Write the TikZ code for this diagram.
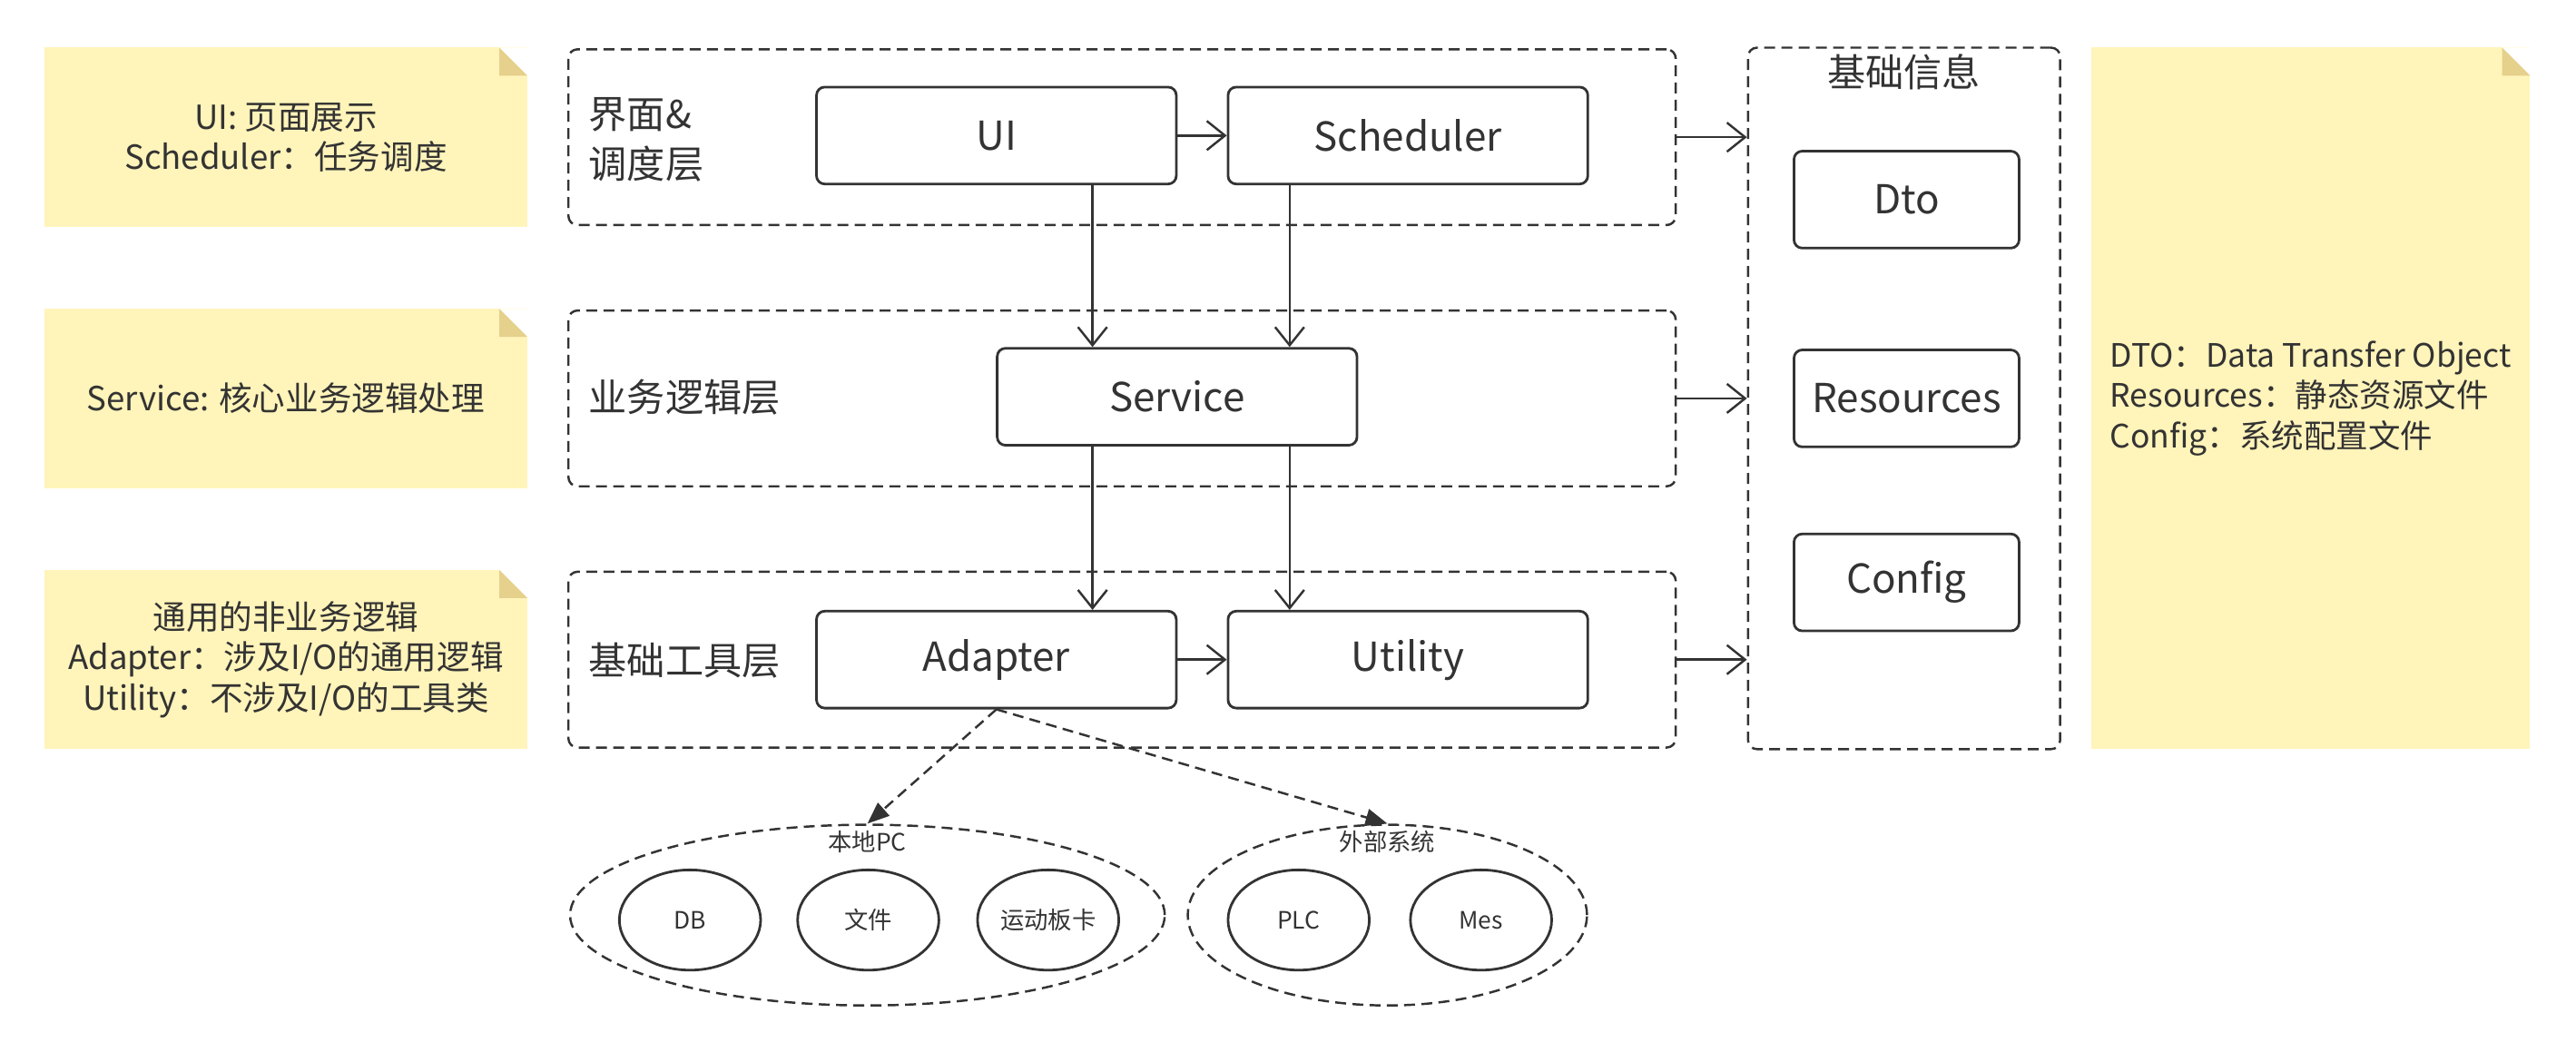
\documentclass[tikz,border=0pt]{standalone}
\usepackage{fontspec}
\setmainfont{Noto Sans CJK SC}
\usepackage{xcolor}
\usetikzlibrary{arrows.meta,positioning,shapes.geometric}
\definecolor{inkgray}{HTML}{333333}
\definecolor{noteyellow}{HTML}{FFF4BA}
\definecolor{notefold}{HTML}{E5D08C}
\newcommand{\upx}{0.0181cm}

\begin{document}
\begin{tikzpicture}[x=0.0181cm, y=-0.0181cm,
    dashline/.style={draw=inkgray, line width=0.7pt, dash pattern=on 1.2mm off 0.7mm},
    layer/.style={dashline, rounded corners=1mm, minimum width=674*\upx, minimum height=107*\upx},
    box/.style={draw=inkgray, line width=0.8pt, rounded corners=0.9mm, fill=white, text=inkgray,
        minimum width=219*\upx, minimum height=59*\upx, font=\fontsize{12.5}{15}\selectfont},
    infobox/.style={box, minimum width=137*\upx},
    layertitle/.style={anchor=west, align=left, inner sep=0pt, text=inkgray, font=\fontsize{12}{15.5}\selectfont},
    note/.style={fill=noteyellow, text=inkgray, align=center, minimum width=294*\upx, minimum height=109*\upx,
        font=\fontsize{10.4}{12.6}\selectfont,
        path picture={
            \fill[white] ([xshift=-17*\upx]path picture bounding box.north east) -- (path picture bounding box.north east)
                -- ([yshift=-17*\upx]path picture bounding box.north east) -- cycle;
            \fill[notefold] ([xshift=-17*\upx]path picture bounding box.north east)
                -- ([xshift=-17*\upx,yshift=-17*\upx]path picture bounding box.north east)
                -- ([yshift=-17*\upx]path picture bounding box.north east) -- cycle;
        }},
    group/.style={ellipse, dashline, minimum height=110*\upx, inner sep=0pt},
    grouptitle/.style={text=inkgray, font=\fontsize{7.5}{9}\selectfont, inner sep=1pt},
    disc/.style={ellipse, draw=inkgray, line width=0.8pt, minimum width=86*\upx, minimum height=61*\upx,
        inner sep=0pt, text=inkgray, font=\fontsize{7.5}{9}\selectfont},
    arr/.style={draw=inkgray, line width=0.7pt, -{Straight Barb[length=2mm,width=3.2mm]}},
    dasharr/.style={dashline, -{Triangle[length=2.4mm,width=1.9mm]}}]

    \useasboundingbox (0,0) rectangle (1568,646);

    % Notes on the left
    \node[note] (note1) at (174,83.5) {UI: 页面展示\\Scheduler：任务调度};
    \node[note] (note2) at (174,242.5) {Service: 核心业务逻辑处理};
    \node[note] (note3) at (174,401.5) {通用的非业务逻辑\\Adapter：涉及I/O的通用逻辑\\Utility：不涉及I/O的工具类};

    % Layers
    \foreach \i/\y in {1/83.5, 2/242.5, 3/401.5}
        \node[layer] (layer\i) at (683,\y) {};
    \node[layertitle] (title1) at (358,85) {界面\&\\调度层};
    \node[layertitle] (title2) at (358,242) {业务逻辑层};
    \node[layertitle] (title3) at (358,402) {基础工具层};

    % Modules
    \node[box] (ui) at (606.5,82.5) {UI};
    \node[box] (sched) at (857,82.5) {Scheduler};
    \node[box] (service) at (716.5,241.5) {Service};
    \node[box] (adapter) at (606.5,401.5) {Adapter};
    \node[box] (utility) at (857,401.5) {Utility};

    % Basic info
    \node[dashline, rounded corners=1mm, minimum width=190*\upx, minimum height=427*\upx] (info) at (1159,242.5) {};
    \node[text=inkgray, font=\fontsize{12}{15}\selectfont] (infotitle) at (1159,44) {基础信息};
    \node[infobox] (dto) at (1160.5,121.5) {Dto};
    \node[infobox] (res) at (1160.5,242.5) {Resources};
    \node[infobox] (config) at (1160.5,354.5) {Config};

    % Note on the right
    \node[note, align=left, minimum width=267*\upx, minimum height=427*\upx, font=\fontsize{10.1}{12.6}\selectfont]
        (note4) at (1406.5,242.5)
        {DTO：Data Transfer Object\\Resources：静态资源文件\\Config：系统配置文件};

    % External things
    \node[group, minimum width=362*\upx] (localpc) at (528,557) {};
    \node[grouptitle, below=1pt of localpc.north] (localtitle) {本地PC};
    \node[group, minimum width=243*\upx] (extsys) at (844.5,557) {};
    \node[grouptitle, below=1pt of extsys.north] (exttitle) {外部系统};
    \foreach \name/\x/\txt in {db/420/DB, file/528.5/文件, card/638/运动板卡, plc/790.5/PLC, mes/901.5/Mes}
        \node[disc] (\name) at (\x,560) {\txt};

    % Connections
    \coordinate (colA) at (665,0);
    \coordinate (colB) at (785,0);
    \draw[arr] (ui) -- (sched);
    \draw[arr] (adapter) -- (utility);
    \draw[arr] (ui.south -| colA) -- (service.north -| colA);
    \draw[arr] (sched.south -| colB) -- (service.north -| colB);
    \draw[arr] (service.south -| colA) -- (adapter.north -| colA);
    \draw[arr] (service.south -| colB) -- (utility.north -| colB);
    \foreach \i in {1,2,3}
        \draw[arr] (layer\i.east) -- (layer\i.east -| info.west);
    \draw[dasharr] (adapter.south) -- (localpc.north);
    \draw[dasharr] (adapter.south) -- (extsys.north);
\end{tikzpicture}
\end{document}
